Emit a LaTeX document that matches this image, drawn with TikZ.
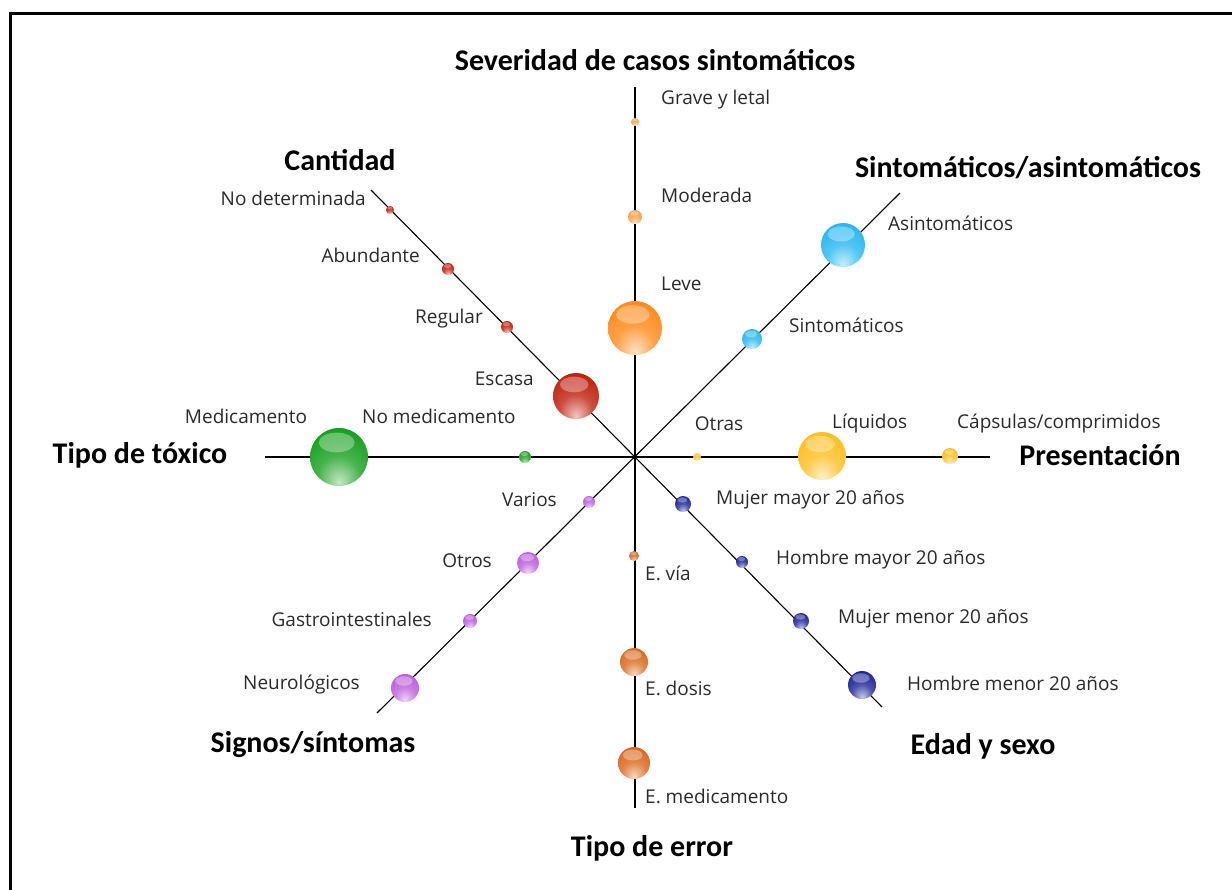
\documentclass[tikz,border=0pt]{standalone}
\usepackage{fontspec}
\usetikzlibrary{calc}
\setmainfont{Open Sans}
\newfontfamily\titlefont{Carlito}
\definecolor{cOrange}{HTML}{FF8A1A}
\definecolor{cOrangeL}{HTML}{F7A048}
\definecolor{cRed}{HTML}{C0200F}
\definecolor{cCyan}{HTML}{26B8F0}
\definecolor{cGreen}{HTML}{17A01E}
\definecolor{cAmber}{HTML}{FFBE1E}
\definecolor{cNavy}{HTML}{1E2699}
\definecolor{cPurple}{HTML}{BC5EDA}
\definecolor{cBrown}{HTML}{D86A1E}
\definecolor{cText}{HTML}{2A2A2A}
\makeatletter
\pgfdeclareradialshading[tikz@ball]{glass}{\pgfqpoint{0bp}{-22bp}}{%
  color(0bp)=(tikz@ball!25!white);
  color(18bp)=(tikz@ball!80!white);
  color(36bp)=(tikz@ball);
  color(58bp)=(tikz@ball!92!black);
  color(75bp)=(tikz@ball!75!black)}
\makeatother
\begin{document}
\begin{tikzpicture}[x=1pt,y=-1pt,
  ax/.style={line width=1.1pt, draw=black},
  lbl/.style={font=\fontsize{19}{22}\selectfont, text=cText, inner sep=0pt},
  ttl/.style={font=\titlefont\bfseries\fontsize{30}{32}\selectfont, inner sep=0pt},
  bead/.style={circle, inner sep=0pt, minimum size=#1,
    path picture={\fill[white,opacity=0.32]
      let \p1=(path picture bounding box.north east),
          \p2=(path picture bounding box.center),
          \n1={\x1-\x2} in
      (\x2-0.08*\n1,{\y2+0.5*\n1}) ellipse [x radius=0.62*\n1, y radius=0.34*\n1];}},
  gl/.style={ball color=#1, shading=glass},
]
\useasboundingbox (0,0) rectangle (1232,890);
\fill[white] (0,0) rectangle (1232,890);
\draw[line width=3pt] (10,890) -- (10,14) -- (1232,14);

% axis ends
\coordinate (C) at (635,457);
\coordinate (N) at (635,87);
\coordinate (S) at (635,808);
\coordinate (W) at (265,457);
\coordinate (E) at (990,457);
\coordinate (NW) at (371,190);
\coordinate (SE) at (882,707);
\coordinate (NE) at (900,193);
\coordinate (SW) at (377,713);
\draw[ax] (N) -- (S);
\draw[ax] (W) -- (E);
\draw[ax] (NW) -- (SE);
\draw[ax] (NE) -- (SW);

% titles
\node[ttl] (tSev) at (655,60) {Severidad de casos sintomáticos};
\node[ttl] (tCant) at (340,160) {Cantidad};
\node[ttl] (tSint) at (1028,168) {Sintomáticos/asintomáticos};
\node[ttl] (tTipo) at (140,455) {Tipo de tóxico};
\node[ttl] (tPres) at (1100,455) {Presentación};
\node[ttl] (tSig) at (313,745) {Signos/síntomas};
\node[ttl] (tEdad) at (983,746) {Edad y sexo};
\node[ttl] (tErr) at (652,848) {Tipo de error};

% severity (up)
\node[bead=8pt, gl=cOrangeL] (bGrave) at (635,122) {};
\node[bead=14pt, gl=cOrangeL] (bMod) at (635,217) {};
\node[bead=54pt, gl=cOrange] (bLeve) at (635,328) {};
\node[lbl, anchor=west] (lGrave) at (661,100) {Grave y letal};
\node[lbl, anchor=west] (lMod) at (661,195) {Moderada};
\node[lbl, anchor=west] (lLeve) at (661,284) {Leve};

% error type (down)
\node[bead=10pt, gl=cBrown] (bVia) at (634,556) {};
\node[bead=28pt, gl=cBrown] (bDosis) at (634,662) {};
\node[bead=32pt, gl=cBrown] (bMedi) at (634,763) {};
\node[lbl, anchor=west] (lVia) at (645,573) {E. vía};
\node[lbl, anchor=west] (lDosis) at (645,688) {E. dosis};
\node[lbl, anchor=west] (lMedi) at (645,796) {E. medicamento};

% quantity (NW)
\node[bead=8pt, gl=cRed] (bNoDet) at (390,210) {};
\node[bead=12pt, gl=cRed] (bAbun) at (448,269) {};
\node[bead=12pt, gl=cRed] (bReg) at (507,327) {};
\node[bead=46pt, gl=cRed] (bEsc) at (576,396) {};
\node[lbl, anchor=east] (lNoDet) at (366,198) {No determinada};
\node[lbl, anchor=east] (lAbun) at (420,255) {Abundante};
\node[lbl, anchor=east] (lReg) at (483,319) {Regular};
\node[lbl, anchor=east] (lEsc) at (534,379) {Escasa};

% age and sex (SE)
\node[bead=16pt, gl=cNavy] (bMM) at (683,504) {};
\node[bead=12pt, gl=cNavy] (bHM) at (742,562) {};
\node[bead=16pt, gl=cNavy] (bMm) at (801,621) {};
\node[bead=28pt, gl=cNavy] (bHm) at (862,685) {};
\node[lbl, anchor=west] (lMM) at (716,500) {Mujer mayor 20 años};
\node[lbl, anchor=west] (lHM) at (776,560) {Hombre mayor 20 años};
\node[lbl, anchor=west] (lMm) at (838,619) {Mujer menor 20 años};
\node[lbl, anchor=west] (lHm) at (907,683) {Hombre menor 20 años};

% symptomatic (NE)
\node[bead=20pt, gl=cCyan] (bSin) at (752,339) {};
\node[bead=44pt, gl=cCyan] (bAsin) at (843,245) {};
\node[lbl, anchor=west] (lSin) at (789,325) {Sintomáticos};
\node[lbl, anchor=west] (lAsin) at (888,223) {Asintomáticos};

% signs (SW)
\node[bead=12pt, gl=cPurple] (bVar) at (589,502) {};
\node[bead=22pt, gl=cPurple] (bOtros) at (528,563) {};
\node[bead=14pt, gl=cPurple] (bGas) at (470,621) {};
\node[bead=28pt, gl=cPurple] (bNeu) at (405,688) {};
\node[lbl, anchor=east] (lVar) at (557,500) {Varios};
\node[lbl, anchor=east] (lOtros) at (492,561) {Otros};
\node[lbl, anchor=east] (lGas) at (432,619) {Gastrointestinales};
\node[lbl, anchor=east] (lNeu) at (360,685) {Neurológicos};

% toxic type (W)
\node[bead=58pt, gl=cGreen] (bMedic) at (339,457) {};
\node[bead=12pt, gl=cGreen] (bNoMed) at (525,457) {};
\node[lbl] (lMedic) at (246,416) {Medicamento};
\node[lbl, anchor=west] (lNoMed) at (362,416) {No medicamento};

% presentation (E)
\node[bead=8pt, gl=cAmber] (bOtras) at (697,457) {};
\node[bead=48pt, gl=cAmber] (bLiq) at (822,456) {};
\node[bead=16pt, gl=cAmber] (bCap) at (950,456) {};
\node[lbl] (lOtras) at (719,424) {Otras};
\node[lbl, anchor=west] (lLiq) at (832,424) {Líquidos};
\node[lbl, anchor=west] (lCap) at (957,424) {Cápsulas/comprimidos};
\end{tikzpicture}
\end{document}
